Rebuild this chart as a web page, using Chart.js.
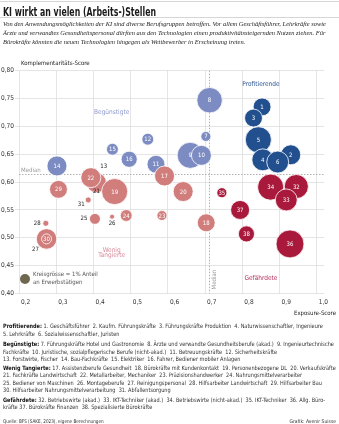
<!DOCTYPE html>
<html>
<head>
<meta charset="utf-8">
<script src="https://cdn.jsdelivr.net/npm/chart.js@4.4.1/dist/chart.umd.min.js"></script>
<style>
body { margin: 0; width: 339px; height: 424px; position: relative; overflow: hidden; background: #fff;
  font-family: "Liberation Sans Narrow", "DejaVu Sans Condensed", Roboto, sans-serif; color: #333; }
#chart { position: absolute; left: 0; top: 0; }
.t { position: absolute; white-space: nowrap; line-height: 1; transform-origin: 0 50%; }
.rule { position: absolute; left: 0; width: 339px; height: 1px; background: #d6d6d6; }
#title { left: 3px; top: 5px; font-size: 13px; font-weight: bold; color: #1a1a1a; }
.sub { left: 3px; font-family: "Liberation Serif", "DejaVu Serif", serif; font-style: italic; font-size: 7px; color: #222; }
.foot { left: 3px; font-size: 6px; color: #333; }
.foot b { color: #111; }
.axis { font-size: 6px; color: #222; }
#key { position: absolute; left: 20px; top: 274px; width: 10px; height: 10px; border-radius: 50%; background: #6e6850; }
</style>
</head>
<body>
<canvas id="chart" width="339" height="424"></canvas>

<div class="rule" style="top:1px"></div>
<div class="t" id="title" data-group="title" data-w="153">KI wirkt an vielen (Arbeits-)Stellen</div>
<div class="rule" style="top:17px"></div>
<div class="t sub" style="top:21px" data-group="sub" data-w="323">Von den Anwendungsmöglichkeiten der KI sind diverse Berufsgruppen betroffen. Vor allem Geschäftsführer, Lehrkräfte sowie</div>
<div class="t sub" style="top:29.8px" data-group="sub">Ärzte und verwandtes Gesundheitspersonal dürften aus den Technologien einen produktivitätssteigernden Nutzen ziehen. Für</div>
<div class="t sub" style="top:38.6px" data-group="sub">Bürokräfte könnten die neuen Technologien hingegen als Wettbewerber in Erscheinung treten.</div>

<div class="t axis" style="left:21px;top:60px">Komplementaritäts-Score</div>
<div class="t axis" style="right:3px;top:309.5px">Exposure-Score</div>

<div id="key"></div>
<div class="t axis" style="left:33px;top:271px;color:#555">Kreisgrösse = 1% Anteil</div>
<div class="t axis" style="left:33px;top:279px;color:#555">an Erwerbstätigen</div>

<div class="t foot" style="top:323px" data-group="foot"><b>Profitierende:</b> 1. Geschäftsführer&nbsp; 2. Kaufm. Führungskräfte&nbsp; 3. Führungskräfte Produktion&nbsp; 4. Naturwissenschaftler, Ingenieure</div>
<div class="t foot" style="top:330.5px" data-group="foot">5. Lehrkräfte&nbsp; 6. Sozialwissenschaftler, Juristen</div>
<div class="t foot" style="top:340.5px" data-group="foot" data-w="331"><b>Begünstigte:</b> 7. Führungskräfte Hotel und Gastronomie&nbsp; 8. Ärzte und verwandte Gesundheitsberufe (akad.)&nbsp; 9. Ingenieurtechnische</div>
<div class="t foot" style="top:348.5px" data-group="foot">Fachkräfte&nbsp; 10. Juristische, sozialpflegerische Berufe (nicht-akad.)&nbsp; 11. Betreuungskräfte&nbsp; 12. Sicherheitskräfte</div>
<div class="t foot" style="top:356px" data-group="foot">13. Forstwirte, Fischer&nbsp; 14. Bau-Fachkräfte&nbsp; 15. Elektriker&nbsp; 16. Fahrer, Bediener mobiler Anlagen</div>
<div class="t foot" style="top:364.5px" data-group="foot"><b>Wenig Tangierte:</b> 17. Assistenzberufe Gesundheit&nbsp; 18. Bürokräfte mit Kundenkontakt&nbsp; 19. Personenbezogene DL&nbsp; 20. Verkaufskräfte</div>
<div class="t foot" style="top:372px" data-group="foot">21. Fachkräfte Landwirtschaft&nbsp; 22. Metallarbeiter, Mechaniker&nbsp; 23. Präzisionshandwerker&nbsp; 24. Nahrungsmittelverarbeiter</div>
<div class="t foot" style="top:379.5px" data-group="foot">25. Bediener von Maschinen&nbsp; 26. Montageberufe&nbsp; 27. Reinigungspersonal&nbsp; 28. Hilfsarbeiter Landwirtschaft&nbsp; 29. Hilfsarbeiter Bau</div>
<div class="t foot" style="top:387px" data-group="foot">30. Hilfsarbeiter Nahrungsmittelverarbeitung&nbsp; 31. Abfallentsorgung</div>
<div class="t foot" style="top:396.5px" data-group="foot"><b>Gefährdete:</b> 32. Betriebswirte (akad.)&nbsp; 33. IKT-Techniker (akad.)&nbsp; 34. Betriebswirte (nicht-akad.)&nbsp; 35. IKT-Techniker&nbsp; 36. Allg. Büro-</div>
<div class="t foot" style="top:403.5px" data-group="foot">kräfte 37. Bürokräfte Finanzen&nbsp; 38. Spezialisierte Bürokräfte</div>
<div class="t foot" style="top:419px;font-size:5px" data-group="foot">Quelle: BFS (SAKE, 2023), eigene Berechnungen</div>
<div class="t foot" style="top:419px;left:auto;right:3px;font-size:5px">Grafik: Avenir Suisse</div>

<script>
// Berufsgruppen: Nummer, Exposure-Score (x), Komplementaritäts-Score (y), Anteil an Erwerbstätigen in %
const profitierendeNr = [1, 3, 5, 2, 4, 6];
const profitierendeX = [0.853, 0.830, 0.843, 0.930, 0.855, 0.895];
const profitierendeY = [0.735, 0.715, 0.676, 0.649, 0.640, 0.636];
const profitierendeAnteil = [3.2, 3.2, 6.8, 4.0, 4.8, 4.8];

const beguenstigteNr = [7, 8, 9, 10, 11, 12, 13, 14, 15, 16];
const beguenstigteX = [0.702, 0.712, 0.660, 0.690, 0.568, 0.546, 0.405, 0.302, 0.451, 0.496];
const beguenstigteY = [0.682, 0.747, 0.648, 0.648, 0.632, 0.677, 0.622, 0.629, 0.659, 0.641];
const beguenstigteAnteil = [1.0, 6.5, 6.8, 4.0, 3.2, 1.4, 0.1, 4.0, 1.4, 2.6];

const tangierteNr = [17, 18, 20, 21, 22, 19, 23, 24, 25, 26, 27, 28, 29, 30, 31];
const tangierteX = [0.591, 0.703, 0.641, 0.408, 0.393, 0.457, 0.584, 0.488, 0.404, 0.450, 0.274, 0.272, 0.306, 0.274, 0.386];
const tangierteY = [0.611, 0.527, 0.583, 0.599, 0.608, 0.583, 0.540, 0.540, 0.534, 0.538, 0.498, 0.526, 0.587, 0.498, 0.568];
const tangierteAnteil = [4.0, 3.2, 4.0, 4.0, 4.0, 6.8, 1.0, 1.4, 1.2, 0.25, 4.2, 0.36, 3.2, 1.0, 0.36];

const gefaehrdeteNr = [32, 34, 33, 35, 36, 37, 38];
const gefaehrdeteX = [0.945, 0.876, 0.918, 0.745, 0.928, 0.794, 0.811];
const gefaehrdeteY = [0.592, 0.591, 0.568, 0.581, 0.489, 0.550, 0.507];
const gefaehrdeteAnteil = [5.8, 6.8, 4.8, 1.0, 7.8, 3.6, 2.6];

const medianX = 0.71;
const medianY = 0.615;
const xTicks = [0.2, 0.3, 0.4, 0.5, 0.6, 0.7, 0.8, 0.9, 1.0];

// Beschriftung ausserhalb der Kreise (kleine Kreise)
const outsideLabels = { 13: [5, -3, 'left'], 21: [0, 9, 'center'], 31: [-7, 5, 'center'],
  25: [-11, 0, 'center'], 26: [0, 6.5, 'center'], 28: [-8.5, 0, 'center'], 27: [-11, 11, 'center'] };

const FONT = '"Liberation Sans Narrow", "DejaVu Sans Condensed", Roboto, sans-serif';
const KEY_R = 5; // Radius für 1% Anteil

function points(nr, xs, ys, anteil) {
    return nr.map((n, i) => ({ x: xs[i], y: ys[i], r: KEY_R * Math.sqrt(anteil[i]), nr: n }));
}

function fmt(v, d) {
    return v.toFixed(d).replace('.', ',');
}

const labelPlugin = {
    id: 'labels',
    beforeDatasetsDraw(chart) {
        const { ctx, chartArea: a, scales: { x, y } } = chart;
        ctx.save();
        ctx.strokeStyle = '#b0b0b0';
        ctx.lineWidth = 1;
        ctx.setLineDash([1.5, 1.5]);
        const mx = Math.round(x.getPixelForValue(medianX)) + 0.5;
        ctx.beginPath(); ctx.moveTo(mx, a.top); ctx.lineTo(mx, a.bottom); ctx.stroke();
        const my = Math.round(y.getPixelForValue(medianY)) + 0.5;
        ctx.beginPath(); ctx.moveTo(a.left, my); ctx.lineTo(a.right, my); ctx.stroke();
        ctx.setLineDash([]);

        // Median-Beschriftungen
        ctx.fillStyle = '#9a9a9a';
        ctx.font = '6px ' + FONT;
        ctx.textAlign = 'left';
        ctx.textBaseline = 'bottom';
        ctx.fillText('Median', a.left + 2, my - 1);
        ctx.save();
        ctx.translate(mx + 5, y.getPixelForValue(0.425));
        ctx.rotate(-Math.PI / 2);
        ctx.textAlign = 'center';
        ctx.textBaseline = 'middle';
        ctx.fillText('Median', 0, 0);
        ctx.restore();

        // Quadranten
        ctx.font = '6.5px ' + FONT;
        ctx.textAlign = 'center';
        ctx.textBaseline = 'middle';
        ctx.fillStyle = '#8c99cb';
        ctx.fillText('Begünstigte', x.getPixelForValue(0.449), y.getPixelForValue(0.725));
        ctx.fillStyle = '#2b5391';
        ctx.fillText('Profitierende', x.getPixelForValue(0.850), y.getPixelForValue(0.776));
        ctx.fillStyle = '#d98a9c';
        ctx.fillText('Wenig', x.getPixelForValue(0.449), y.getPixelForValue(0.478));
        ctx.fillText('Tangierte', x.getPixelForValue(0.449), y.getPixelForValue(0.468));
        ctx.fillStyle = '#b3305a';
        ctx.fillText('Gefährdete', x.getPixelForValue(0.850), y.getPixelForValue(0.427));
        ctx.restore();
    },
    afterDatasetsDraw(chart) {
        const { ctx } = chart;
        ctx.save();
        ctx.font = '6px ' + FONT;
        ctx.textBaseline = 'middle';
        chart.data.datasets.forEach((ds, di) => {
            const meta = chart.getDatasetMeta(di);
            meta.data.forEach((el, i) => {
                const nr = ds.data[i].nr;
                const off = outsideLabels[nr];
                if (off) {
                    ctx.fillStyle = '#222';
                    ctx.textAlign = off[2];
                    ctx.fillText(String(nr), el.x + off[0], el.y + off[1]);
                } else {
                    ctx.fillStyle = '#fff';
                    ctx.textAlign = 'center';
                    ctx.fillText(String(nr), el.x, el.y + 0.5);
                }
            });
        });
        ctx.restore();
    }
};

function bubbleSet(label, data, color, order) {
    return {
        label: label,
        data: data,
        backgroundColor: color,
        borderColor: '#ffffff',
        borderWidth: 0.8,
        hoverRadius: 0,
        order: order
    };
}

Chart.defaults.font.family = FONT;
Chart.defaults.color = '#333';

new Chart(document.getElementById('chart'), {
    type: 'bubble',
    data: {
        datasets: [
            bubbleSet('Gefährdete', points(gefaehrdeteNr, gefaehrdeteX, gefaehrdeteY, gefaehrdeteAnteil), '#a8193b', 1),
            bubbleSet('Wenig Tangierte', points(tangierteNr, tangierteX, tangierteY, tangierteAnteil), '#d07d7c', 2),
            bubbleSet('Begünstigte', points(beguenstigteNr, beguenstigteX, beguenstigteY, beguenstigteAnteil), '#7c8cc2', 3),
            bubbleSet('Profitierende', points(profitierendeNr, profitierendeX, profitierendeY, profitierendeAnteil), '#22508f', 4)
        ]
    },
    options: {
        responsive: false,
        animation: false,
        events: [],
        layout: { padding: { top: 70.7, right: 3.5, bottom: 114.5, left: 1 } },
        plugins: { legend: { display: false }, tooltip: { enabled: false } },
        scales: {
            x: {
                type: 'linear',
                min: 0.2,
                max: 1.02,
                afterBuildTicks: (s) => { s.ticks = xTicks.map(v => ({ value: v })); },
                afterFit: (s) => { s.height = 16; },
                border: { display: false },
                grid: { color: '#dedede', drawTicks: false, lineWidth: 0.8 },
                ticks: { align: 'start', padding: 5, labelOffset: 2, color: '#333', font: { size: 6.5 },
                    callback: (v) => fmt(v, 1) }
            },
            y: {
                type: 'linear',
                min: 0.4,
                max: 0.8,
                ticks: { stepSize: 0.05, crossAlign: 'far', padding: 2, color: '#333', font: { size: 6.5 },
                    callback: (v) => fmt(v, 2) },
                afterFit: (s) => { s.width = 18; },
                border: { display: false },
                grid: { color: '#dedede', tickLength: 4, lineWidth: 0.8 }
            }
        }
    },
    plugins: [labelPlugin]
});

// Textgruppen einheitlich auf die Breite der Vorlage bringen (Massstab aus der Referenzzeile)
['title', 'sub', 'foot'].forEach(g => {
    const els = Array.from(document.querySelectorAll('[data-group="' + g + '"]'));
    const ref = els.find(el => el.dataset.w);
    const k = parseFloat(ref.dataset.w) / ref.getBoundingClientRect().width;
    els.forEach(el => { el.style.transform = 'scaleX(' + k.toFixed(3) + ')'; });
});
</script>
</body>
</html>
